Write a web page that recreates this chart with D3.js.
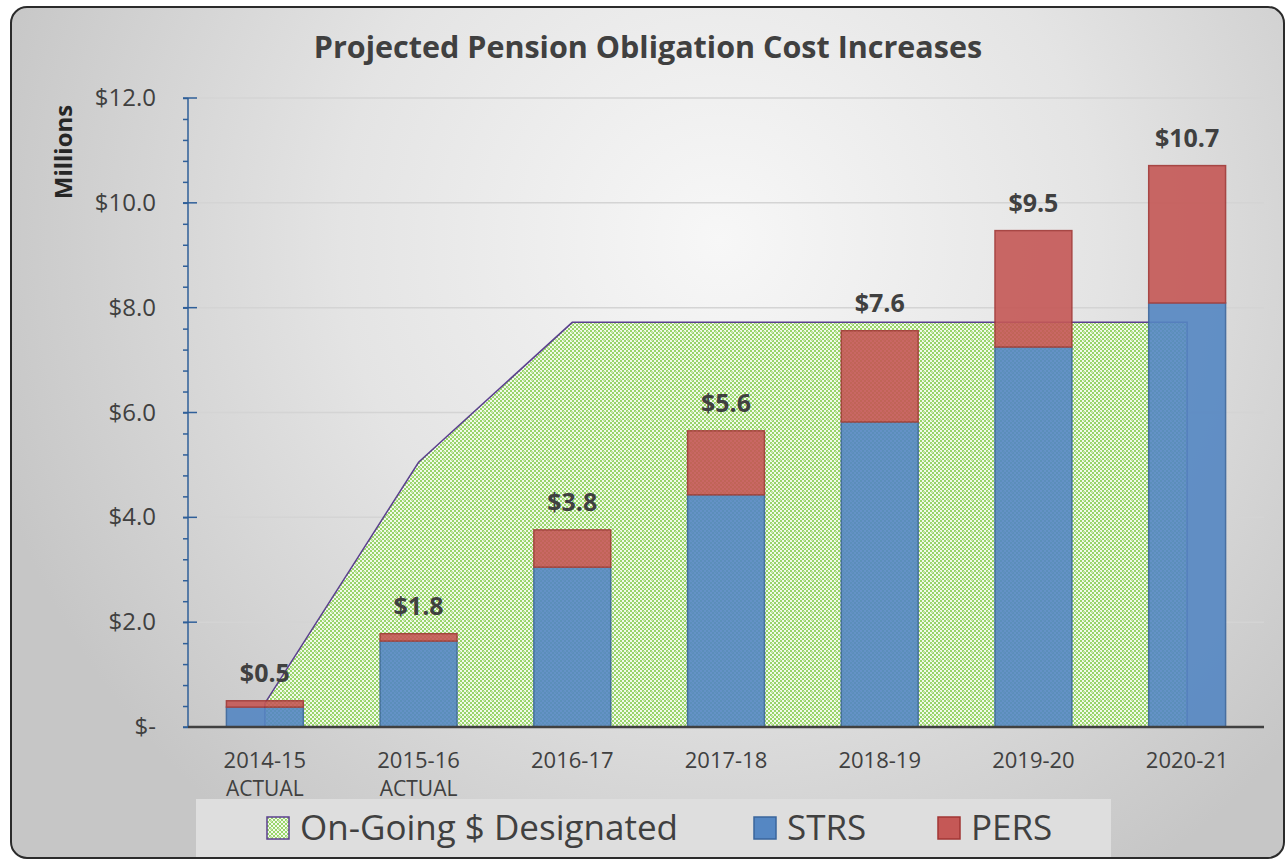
<!DOCTYPE html>
<html>
<head>
<meta charset="utf-8">
<script src="https://cdn.jsdelivr.net/npm/d3@7"></script>
<style>
	body { margin: 0; background: #ffffff; }
	text { font-family: "Open Sans", Lato, sans-serif; }
</style>
</head>
<body>
<div id="chart"></div>
<script>
// chart data (millions)
const years = ["2014-15", "2015-16", "2016-17", "2017-18", "2018-19", "2019-20", "2020-21"];
const sub_labels = ["ACTUAL", "ACTUAL", "", "", "", "", ""];
const strs = [0.38, 1.64, 3.05, 4.43, 5.82, 7.25, 8.09];
const pers = [0.12, 0.14, 0.71, 1.22, 1.74, 2.22, 2.62];
const totals = ["$0.5", "$1.8", "$3.8", "$5.6", "$7.6", "$9.5", "$10.7"];
const designated = [0.45, 5.05, 7.72, 7.72, 7.72, 7.72, 7.72];
const y_ticks = [0, 2, 4, 6, 8, 10, 12];
const y_tick_labels = ["$-", "$2.0", "$4.0", "$6.0", "$8.0", "$10.0", "$12.0"];

const width = 1286;
const height = 860;
const margin = { top: 98, right: 22, bottom: 133, left: 188 };

const svg = d3.select("#chart")
	.append("svg")
	.attr("width", width)
	.attr("height", height);

const defs = svg.append("defs");

// background gradient of the chart frame
const bg = defs.append("radialGradient")
	.attr("id", "bg")
	.attr("gradientUnits", "userSpaceOnUse")
	.attr("cx", 720).attr("cy", 240).attr("r", 760);
bg.append("stop").attr("offset", "0%").attr("stop-color", "#f7f7f7");
bg.append("stop").attr("offset", "50%").attr("stop-color", "#e4e4e4");
bg.append("stop").attr("offset", "100%").attr("stop-color", "#c6c6c6");

// green lattice pattern for the area
const pat = defs.append("pattern")
	.attr("id", "lattice")
	.attr("patternUnits", "userSpaceOnUse")
	.attr("width", 8).attr("height", 8);
pat.append("rect").attr("width", 8).attr("height", 8).attr("fill", "#f2faea");
[[0, 0], [4, 0], [2, 2], [6, 2], [0, 4], [4, 4], [2, 6], [6, 6]].forEach(([px, py]) => {
	pat.append("rect").attr("x", px).attr("y", py).attr("width", 2).attr("height", 2).attr("fill", "#98d46a");
});
pat.append("rect").attr("x", 3).attr("y", 3).attr("width", 2).attr("height", 2).attr("fill", "#c0e6a0");

// frame
svg.append("rect")
	.attr("x", 11).attr("y", 7)
	.attr("width", 1273).attr("height", 851)
	.attr("rx", 16)
	.attr("fill", "url(#bg)")
	.attr("stroke", "#2b2b2b")
	.attr("stroke-width", 2);

const x = d3.scaleBand()
	.domain(years)
	.range([margin.left, width - margin.right])
	.paddingInner(0.5)
	.paddingOuter(0.25);

const y = d3.scaleLinear()
	.domain([0, 12])
	.range([height - margin.bottom, margin.top]);

// gridlines
svg.append("g")
	.selectAll("line")
	.data(y_ticks.filter((d) => d > 0))
	.join("line")
	.attr("x1", margin.left)
	.attr("x2", width - margin.right)
	.attr("y1", (d) => y(d))
	.attr("y2", (d) => y(d))
	.attr("stroke", "#d4d4d4")
	.attr("stroke-width", 1.5);

// designated area
const area = d3.area()
	.x((d, i) => x(years[i]) + x.bandwidth() / 2)
	.y0(y(0))
	.y1((d) => y(d));

svg.append("path")
	.datum(designated)
	.attr("d", area)
	.attr("fill", "url(#lattice)")
	.attr("stroke", "#5b3f8f")
	.attr("stroke-width", 1.5);

// stacked bars
const bars = svg.append("g").attr("opacity", 0.9);

bars.selectAll(".strs")
	.data(strs)
	.join("rect")
	.attr("class", "strs")
	.attr("x", (d, i) => x(years[i]))
	.attr("width", x.bandwidth())
	.attr("y", (d) => y(d))
	.attr("height", (d) => y(0) - y(d))
	.attr("fill", "#5587c3")
	.attr("stroke", "#3a659c")
	.attr("stroke-width", 1.5);

bars.selectAll(".pers")
	.data(pers)
	.join("rect")
	.attr("class", "pers")
	.attr("x", (d, i) => x(years[i]))
	.attr("width", x.bandwidth())
	.attr("y", (d, i) => y(strs[i] + d))
	.attr("height", (d, i) => y(strs[i]) - y(strs[i] + d))
	.attr("fill", "#c55856")
	.attr("stroke", "#a13634")
	.attr("stroke-width", 1.5);

// total labels
svg.append("g")
	.selectAll("text")
	.data(totals)
	.join("text")
	.attr("x", (d, i) => x(years[i]) + x.bandwidth() / 2)
	.attr("y", (d, i) => y(strs[i] + pers[i]) - 19)
	.attr("text-anchor", "middle")
	.attr("font-size", "25px")
	.attr("font-weight", "bold")
	.attr("fill", "#404040")
	.text((d) => d);

// y axis: minor ticks
const minor = d3.range(0, 12.01, 0.4);
svg.append("g")
	.attr("transform", `translate(${margin.left}, 0)`)
	.call(d3.axisLeft(y).tickValues(minor).tickSize(5).tickFormat(""))
	.call((g) => g.selectAll("line, path").attr("stroke", "#2f5f99").attr("stroke-width", 1.5))
	.call((g) => g.select(".domain").attr("d", `M0,${y(12)}V${y(0)}`));

// major ticks cross the axis
svg.append("g")
	.selectAll("line")
	.data(y_ticks)
	.join("line")
	.attr("x1", margin.left - 5)
	.attr("x2", margin.left + 9)
	.attr("y1", (d) => y(d))
	.attr("y2", (d) => y(d))
	.attr("stroke", "#2f5f99")
	.attr("stroke-width", 1.5);

// y tick labels
svg.append("g")
	.selectAll("text")
	.data(y_ticks)
	.join("text")
	.attr("x", 156)
	.attr("y", (d) => y(d) + 8)
	.attr("text-anchor", "end")
	.attr("font-size", "24px")
	.attr("fill", "#404040")
	.text((d, i) => y_tick_labels[i]);

// x baseline
svg.append("line")
	.attr("x1", margin.left)
	.attr("x2", width - margin.right)
	.attr("y1", y(0))
	.attr("y2", y(0))
	.attr("stroke", "#404040")
	.attr("stroke-width", 2.5);

// x labels
const xl = svg.append("g")
	.selectAll("g")
	.data(years)
	.join("g")
	.attr("transform", (d) => `translate(${x(d) + x.bandwidth() / 2}, 0)`);
xl.append("text")
	.attr("y", 768)
	.attr("text-anchor", "middle")
	.attr("font-size", "22px")
	.attr("fill", "#404040")
	.text((d) => d);
xl.append("text")
	.attr("y", 796)
	.attr("text-anchor", "middle")
	.attr("font-size", "21px")
	.attr("fill", "#404040")
	.text((d, i) => sub_labels[i]);

// title
svg.append("text")
	.attr("x", 648)
	.attr("y", 58)
	.attr("text-anchor", "middle")
	.attr("font-size", "30.5px")
	.attr("font-weight", "bold")
	.attr("fill", "#404040")
	.text("Projected Pension Obligation Cost Increases");

// y axis title
svg.append("text")
	.attr("transform", "translate(72, 152) rotate(-90)")
	.attr("text-anchor", "middle")
	.attr("font-size", "24px")
	.attr("font-weight", "bold")
	.attr("fill", "#262626")
	.text("Millions");

// legend
svg.append("rect")
	.attr("x", 196).attr("y", 799)
	.attr("width", 915).attr("height", 58)
	.attr("fill", "#dedede");

const legend_items = [
	{ label: "On-Going $ Designated", fill: "url(#lattice)", stroke: "#5b3f8f", x: 267 },
	{ label: "STRS", fill: "#5587c3", stroke: "#3a659c", x: 754 },
	{ label: "PERS", fill: "#c55856", stroke: "#a13634", x: 938 },
];
const lg = svg.append("g")
	.selectAll("g")
	.data(legend_items)
	.join("g")
	.attr("transform", (d) => `translate(${d.x}, 817)`);
lg.append("rect")
	.attr("width", 22).attr("height", 22)
	.attr("fill", (d) => d.fill)
	.attr("stroke", (d) => d.stroke)
	.attr("stroke-width", 1.5);
lg.append("text")
	.attr("x", 33)
	.attr("y", 23)
	.attr("font-size", "35px")
	.attr("fill", "#404040")
	.text((d) => d.label);
</script>
</body>
</html>
